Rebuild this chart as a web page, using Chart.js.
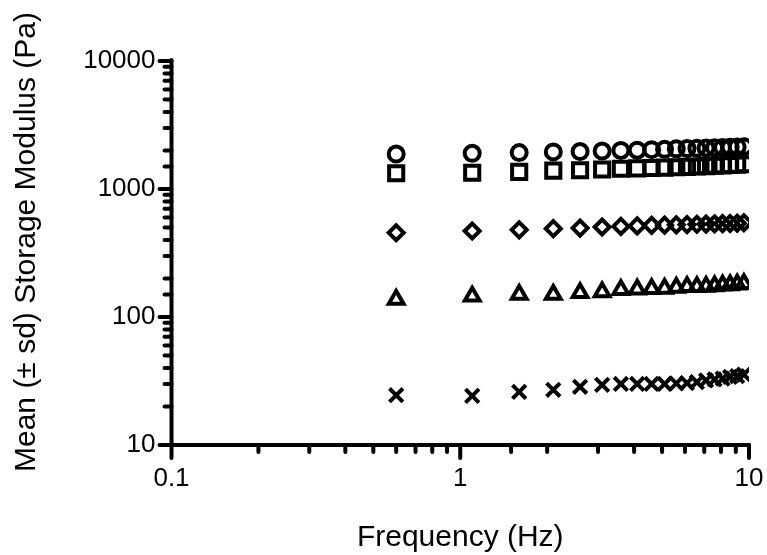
<!DOCTYPE html>
<html>
<head>
<meta charset="utf-8">
<script src="https://cdn.jsdelivr.net/npm/chart.js@4/dist/chart.umd.min.js"></script>
<style>
  html, body { margin: 0; padding: 0; background: #fff; }
  #wrap { width: 767px; height: 555px; }
</style>
</head>
<body>
<div id="wrap"><canvas id="modulusChart"></canvas></div>
<script>
// Frequency (Hz) of each sweep point
const FREQUENCY = [0.6, 1.1, 1.6, 2.1, 2.6, 3.1, 3.6, 4.1, 4.6, 5.1, 5.6, 6.1, 6.6, 7.1, 7.6, 8.1, 8.6, 9.1, 9.6];

// mean storage modulus (Pa), one array per sample
const CIRCLES  = [1875, 1900, 1925, 1950, 1960, 1980, 2000, 2010, 2030, 2040, 2060, 2070, 2080, 2090, 2100, 2110, 2120, 2130, 2140];
const SQUARES  = [1327, 1340, 1360, 1390, 1400, 1420, 1440, 1450, 1460, 1470, 1480, 1490, 1500, 1510, 1520, 1530, 1540, 1550, 1560];
const DIAMONDS = [455, 470, 480, 490, 495, 505, 510, 515, 520, 522, 525, 527, 530, 532, 534, 536, 538, 540, 545];
const TRIANGLES = [137, 145, 150, 150, 155, 157, 163, 165, 166, 167, 170, 172, 172, 173, 175, 177, 178, 180, 182];
const CROSSES  = [24.5, 24.2, 26, 27, 28.5, 29.5, 30, 30, 30, 30, 30.3, 30.5, 31, 32, 32.5, 33, 34, 34.5, 35.5];

const X_MIN = 0.1, X_MAX = 10;
const Y_MIN = 10, Y_MAX = 10000;

const X_TITLE = 'Frequency (Hz)';
const Y_TITLE = 'Mean (± sd) Storage Modulus (Pa)';

const FONT = "'Liberation Sans', Arial, sans-serif";

function toPoints(values) {
    return FREQUENCY.map((f, i) => ({ x: f, y: values[i] }));
}

function series(label, values, style, radius) {
    return {
        label: label,
        data: toPoints(values),
        pointStyle: style,
        pointRadius: radius,
        pointHoverRadius: radius,
        pointBorderColor: '#000',
        pointBackgroundColor: 'rgba(0,0,0,0)',
        pointBorderWidth: 4,
        showLine: false
    };
}

const isDecade = (v) => Math.abs(Math.log10(v) - Math.round(Math.log10(v))) < 1e-9;

// axis lines with long decade ticks and short minor ticks, drawn outside the plot
const axisPlugin = {
    id: 'prismAxes',
    beforeDatasetsDraw(chart) {
        const { ctx, chartArea, scales } = chart;
        const xs = scales.x, ys = scales.y;
        ctx.save();
        ctx.strokeStyle = '#000';
        ctx.lineWidth = 4;
        ctx.lineCap = 'round';
        ctx.beginPath();
        ctx.moveTo(chartArea.left, chartArea.top - 1);
        ctx.lineTo(chartArea.left, chartArea.bottom);
        ctx.lineTo(chartArea.right, chartArea.bottom);
        ctx.stroke();

        ctx.beginPath();
        xs.ticks.forEach(t => {
            const px = xs.getPixelForValue(t.value);
            const len = isDecade(t.value) ? 13 : 7;
            ctx.moveTo(px, chartArea.bottom);
            ctx.lineTo(px, chartArea.bottom + len);
        });
        ys.ticks.forEach(t => {
            const py = ys.getPixelForValue(t.value);
            const len = isDecade(t.value) ? 12 : 7;
            ctx.moveTo(chartArea.left, py);
            ctx.lineTo(chartArea.left - len, py);
        });
        ctx.stroke();

        // y title sits a little above the middle of the axis, as in the original
        ctx.fillStyle = '#000';
        ctx.font = '30px ' + FONT;
        ctx.textAlign = 'center';
        ctx.textBaseline = 'middle';
        ctx.translate(ys.left + 27, (chartArea.top + chartArea.bottom) / 2 - 11);
        ctx.rotate(-Math.PI / 2);
        ctx.fillText(Y_TITLE, 0, 0);
        ctx.restore();
    }
};

const ctx = document.getElementById('modulusChart').getContext('2d');

new Chart(ctx, {
    type: 'scatter',
    data: {
        datasets: [
            series('Circles', CIRCLES, 'circle', 7.5),
            series('Squares', SQUARES, 'rect', 10),
            series('Diamonds', DIAMONDS, 'rectRot', 7.5),
            series('Triangles', TRIANGLES, 'triangle', 8.5),
            series('Crosses', CROSSES, 'crossRot', 9.5)
        ]
    },
    options: {
        responsive: true,
        maintainAspectRatio: false,
        animation: false,
        layout: {
            padding: { top: 61, right: 18, left: 0, bottom: 0 }
        },
        plugins: {
            legend: { display: false },
            tooltip: { enabled: false }
        },
        scales: {
            x: {
                type: 'logarithmic',
                min: X_MIN,
                max: X_MAX,
                grid: { display: false, drawTicks: false },
                border: { display: false },
                afterFit: (scale) => {
                    scale.height = 110;
                    scale.paddingLeft = 0;
                    scale.paddingRight = 0;
                },
                ticks: {
                    autoSkip: false,
                    maxRotation: 0,
                    padding: 18,
                    color: '#000',
                    font: { family: FONT, size: 26 },
                    callback: (v) => isDecade(v) ? String(v) : ''
                },
                title: {
                    display: true,
                    text: X_TITLE,
                    color: '#000',
                    font: { family: FONT, size: 30 },
                    padding: { top: 0, bottom: -1 }
                }
            },
            y: {
                type: 'logarithmic',
                min: Y_MIN,
                max: Y_MAX,
                grid: { display: false, drawTicks: false },
                border: { display: false },
                afterFit: (scale) => { scale.width = 171.5; },
                ticks: {
                    autoSkip: false,
                    padding: 16,
                    color: '#000',
                    font: { family: FONT, size: 26 },
                    callback: (v) => isDecade(v) ? String(v) : ''
                },
                title: { display: false }
            }
        }
    },
    plugins: [axisPlugin]
});
</script>
</body>
</html>
